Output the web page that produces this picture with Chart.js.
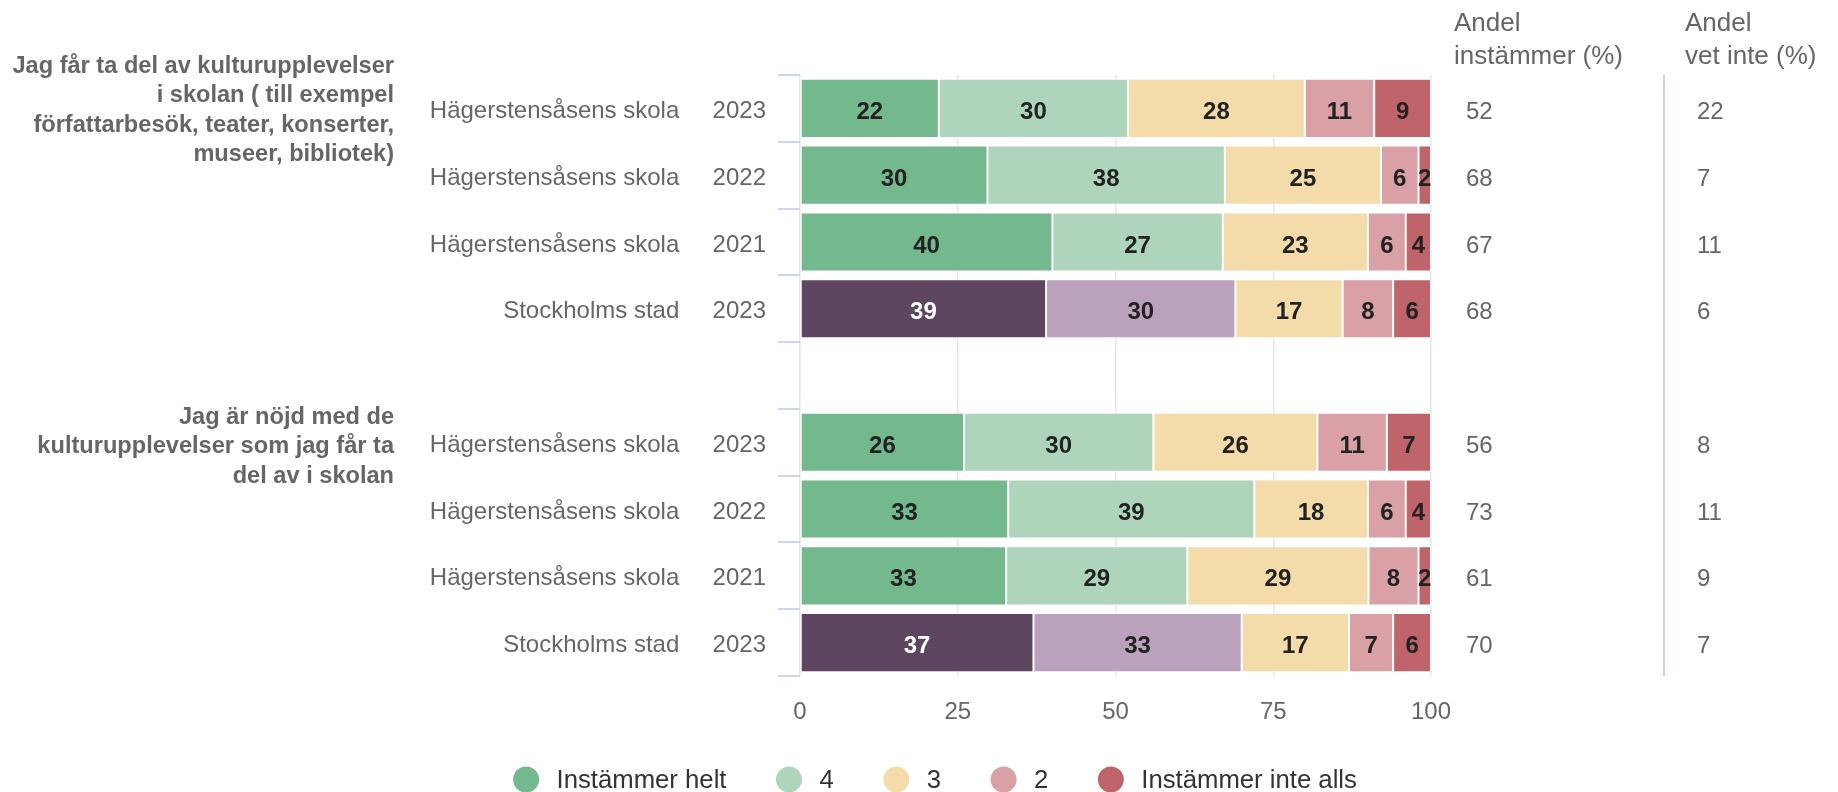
<!DOCTYPE html>
<html>
<head>
<meta charset="utf-8">
<script src="https://cdn.jsdelivr.net/npm/chart.js@4.4.1/dist/chart.umd.min.js"></script>
<style>
html,body{margin:0;padding:0;background:#ffffff;}
#wrap{width:1838px;height:792px;position:relative;}
</style>
</head>
<body>
<div id="wrap"><canvas id="c" width="1838" height="792"></canvas></div>
<script>
// ---- data ----
const categories = ['Hägerstensåsens skola','Hägerstensåsens skola','Hägerstensåsens skola','Stockholms stad','','Hägerstensåsens skola','Hägerstensåsens skola','Hägerstensåsens skola','Stockholms stad'];
const years = ['2023','2022','2021','2023','','2023','2022','2021','2023'];
const seriesNames = ['Instämmer helt','4','3','2','Instämmer inte alls'];
const helt     = [22,30,40,39,null,26,33,33,37];
const s4       = [30,38,27,30,null,30,39,29,33];
const s3       = [28,25,23,17,null,26,18,29,17];
const s2       = [11, 6, 6, 8,null,11, 6, 8, 7];
const inteAlls = [ 9, 2, 4, 6,null, 7, 4, 2, 6];
const andelInstammer = [52,68,67,68,null,56,73,61,70];
const andelVetInte   = [22, 7,11, 6,null, 8,11, 9, 7];
const group1Lines = ['Jag får ta del av kulturupplevelser','i skolan ( till exempel','författarbesök, teater, konserter,','museer, bibliotek)'];
const group2Lines = ['Jag är nöjd med de','kulturupplevelser som jag får ta','del av i skolan'];
const header1 = ['Andel','instämmer (%)'];
const header2 = ['Andel','vet inte (%)'];
const xTicks = [0,25,50,75,100];

// ---- styles ----
const FONT = '"Liberation Sans", Arial, Helvetica, sans-serif';
Chart.defaults.font.family = FONT;
const baseColors = ['#74b88e','#aed5bc','#f3dcaa','#d9a0a6','#c0646c'];
const cityColors = ['#5f4660','#baa1bc','#f3dcaa','#d9a0a6','#c0646c'];
const labelDark = '#222222';

const allSeries = [helt, s4, s3, s2, inteAlls];
const rowSums = categories.map((c,i)=> c ? allSeries.reduce((a,s)=>a+s[i],0) : null);
const toPct = arr => arr.map((v,i)=> v==null ? null : v*100/rowSums[i]);
const isCity = i => categories[i] === 'Stockholms stad';

const datasets = allSeries.map((arr, k) => ({
  label: seriesNames[k],
  data: toPct(arr),
  raw: arr,
  backgroundColor: categories.map((c,i)=> isCity(i) ? cityColors[k] : baseColors[k]),
  legendColor: baseColors[k],
  labelColors: categories.map((c,i)=> (isCity(i) && k===0) ? '#ffffff' : labelDark),
  borderColor: '#ffffff',
  borderWidth: 1,
  borderSkipped: false,
  barPercentage: 0.885,
  categoryPercentage: 1.0
}));

const barLabels = {
  id: 'barLabels',
  afterDatasetsDraw(chart){
    const ctx = chart.ctx, a = chart.chartArea;
    ctx.save();
    ctx.beginPath(); ctx.rect(a.left, a.top, a.right - a.left + 2, a.bottom - a.top); ctx.clip();
    ctx.font = 'bold 24px ' + FONT;
    ctx.textAlign = 'center'; ctx.textBaseline = 'middle';
    chart.data.datasets.forEach((ds, k) => {
      const meta = chart.getDatasetMeta(k);
      meta.data.forEach((el, j) => {
        const v = ds.raw[j];
        if (v == null) return;
        ctx.fillStyle = ds.labelColors[j];
        ctx.fillText(String(v), (el.x + el.base)/2, el.y + 4);
      });
    });
    ctx.restore();
  }
};

const sideText = {
  id: 'sideText',
  afterDraw(chart){
    const ctx = chart.ctx, a = chart.chartArea, ys = chart.scales.y;
    ctx.save();
    // group labels
    ctx.font = 'bold 23.6px ' + FONT;
    ctx.fillStyle = '#666666';
    ctx.textAlign = 'right'; ctx.textBaseline = 'middle';
    const lh = 29.5;
    const gx = 394;
    const g1y = ys.getPixelForValue(0) - 42;
    group1Lines.forEach((t, i) => ctx.fillText(t, gx, g1y + i*lh));
    const g2y = ys.getPixelForValue(5) - 25;
    group2Lines.forEach((t, i) => ctx.fillText(t, gx, g2y + i*lh));

    // headers
    ctx.font = '26px ' + FONT;
    ctx.textAlign = 'left';
    const c1 = a.right + 23, c2 = a.right + 254;
    header1.forEach((t,i)=> ctx.fillText(t, c1, a.top - 51 + i*33));
    header2.forEach((t,i)=> ctx.fillText(t, c2, a.top - 51 + i*33));

    // values
    ctx.font = '24px ' + FONT;
    categories.forEach((c, i) => {
      if (andelInstammer[i] != null) ctx.fillText(String(andelInstammer[i]), a.right + 35, ys.getPixelForValue(i) + 4);
      if (andelVetInte[i] != null) ctx.fillText(String(andelVetInte[i]), a.right + 266, ys.getPixelForValue(i) + 4);
    });

    // separator
    ctx.strokeStyle = '#ccd6eb'; ctx.lineWidth = 2;
    ctx.beginPath(); ctx.moveTo(a.right + 233, a.top); ctx.lineTo(a.right + 233, a.bottom); ctx.stroke();

    // legend
    ctx.font = '25.7px ' + FONT;
    ctx.textBaseline = 'middle';
    const r = 13, toText = 30.5, toNext = 62.5;
    const widths = chart.data.datasets.map(ds => ctx.measureText(ds.label).width);
    let total = 0;
    widths.forEach((w,i)=> { total += toText + w + (i < widths.length-1 ? toNext : 0); });
    total += r;
    let x = chart.width/2 + 16 - total/2 + r;
    const ly = 779.5;
    chart.data.datasets.forEach((ds, i) => {
      ctx.fillStyle = ds.legendColor;
      ctx.beginPath(); ctx.arc(x, ly, r, 0, Math.PI*2); ctx.fill();
      ctx.fillStyle = '#333333';
      ctx.fillText(ds.label, x + toText, ly + 1);
      x += toText + widths[i] + toNext;
    });
    ctx.restore();
  }
};

new Chart(document.getElementById('c'), {
  type: 'bar',
  data: { labels: categories.map((c,i)=> c ? c + '     ' + years[i] : ''), datasets },
  options: {
    indexAxis: 'y',
    responsive: false,
    devicePixelRatio: 1,
    animation: false,
    layout: { padding: { top: 75, right: 407, bottom: 66, left: 0 } },
    plugins: { legend: { display: false }, tooltip: { enabled: false }, title: { display: false } },
    scales: {
      x: {
        stacked: true, min: 0, max: 100,
        afterBuildTicks(s){ s.ticks = xTicks.map(v => ({value: v})); },
        afterFit(s){ s.height = 50; },
        grid: { color: '#e6e6e6', lineWidth: 1.5, drawTicks: false },
        border: { display: false },
        ticks: { font: { size: 24 }, color: '#666666', padding: 22 }
      },
      y: {
        stacked: true,
        afterFit(s){ s.width = 800; },
        grid: { drawOnChartArea: false, drawTicks: true, tickLength: 22, tickColor: '#ccd6eb', color: '#ccd6eb', lineWidth: 2, offset: true },
        border: { display: false },
        ticks: { font: { size: 24 }, color: '#666666', padding: 12, autoSkip: false, labelOffset: 3 }
      }
    }
  },
  plugins: [barLabels, sideText]
});
</script>
</body>
</html>
